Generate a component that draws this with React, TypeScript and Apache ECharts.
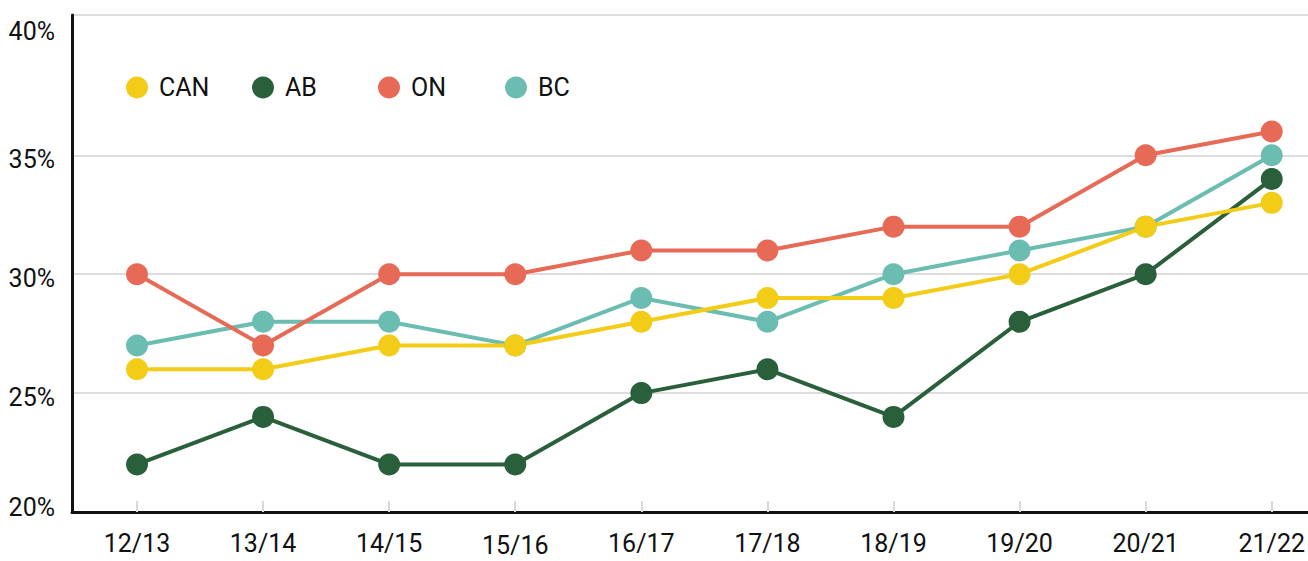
import React, { useEffect, useRef } from "react";
import * as echarts from "echarts";

const categories = ["12/13", "13/14", "14/15", "15/16", "16/17", "17/18", "18/19", "19/20", "20/21", "21/22"];
const seriesNames = ["CAN", "AB", "ON", "BC"];
const canValues = [26, 26, 27, 27, 28, 29, 29, 30, 32, 33];
const abValues = [22, 24, 22, 22, 25, 26, 24, 28, 30, 34];
const onValues = [30, 27, 30, 30, 31, 31, 32, 32, 35, 36];
const bcValues = [27, 28, 28, 27, 29, 28, 30, 31, 32, 35];
const yTicks = [20, 25, 30, 35, 40];

const colors: Record<string, string> = {
  CAN: "#F3CC17",
  AB: "#2A5F3B",
  ON: "#E66A56",
  BC: "#6CBDB1",
};

const FONT = "Roboto";

export default function App() {
  const ref = useRef<HTMLDivElement>(null);
  useEffect(() => {
    if (!ref.current) return;
    const chart = echarts.init(ref.current, null, { renderer: "svg" });
    const legendCenters = [137, 263, 389, 516];
    const dataMap: Record<string, number[]> = { CAN: canValues, AB: abValues, ON: onValues, BC: bcValues };
    const order = ["BC", "ON", "AB", "CAN"];
    chart.setOption({
      animation: false,
      textStyle: { fontFamily: FONT },
      grid: [
        { left: 72, right: 0, top: 15, bottom: 49 },
        { left: 137, right: 31, top: 15, bottom: 49 },
      ],
      legend: seriesNames.map((n, i) => ({
        data: [{ name: n, icon: "circle" }],
        left: legendCenters[i] - 11,
        top: 75,
        padding: 0,
        itemWidth: 22,
        itemHeight: 22,
        selectedMode: false,
        textStyle: { fontSize: 25, color: "#111", fontFamily: FONT, padding: [0, 0, 0, 6] },
      })),
      xAxis: [
        {
          type: "value",
          gridIndex: 0,
          min: 0,
          max: 1,
          axisLine: { show: true, onZero: false, lineStyle: { color: "#111", width: 3 } },
          axisTick: { show: false },
          axisLabel: { show: false },
          splitLine: { show: false },
        },
        {
          type: "category",
          gridIndex: 1,
          data: categories,
          boundaryGap: false,
          axisLine: { show: false, onZero: false },
          axisTick: { show: true, inside: true, interval: 0, length: 11, lineStyle: { color: "#d9d9d9", width: 2 } },
          axisLabel: {
            interval: 0,
            hideOverlap: false,
            margin: 19,
            fontSize: 25,
            color: "#111",
            fontFamily: FONT,
            formatter: (v: string, i: number) => (i === 3 ? `{low|${v}}` : v),
            rich: {
              low: { fontSize: 25, lineHeight: 24, color: "#111", fontFamily: FONT, padding: [4, 0, 0, 0] },
            },
          },
          splitLine: { show: false },
        },
      ],
      yAxis: [
        {
          type: "value",
          gridIndex: 0,
          min: 20,
          max: 40.9,
          interval: 5,
          axisLine: { show: true, lineStyle: { color: "#111", width: 3 } },
          axisTick: { show: false },
          axisLabel: {
            margin: 17,
            fontSize: 25,
            color: "#111",
            fontFamily: FONT,
            formatter: (v: number) => {
              if (!yTicks.includes(Math.round(v * 100) / 100)) return "";
              return v === 20 || v === 40 ? `{up|${v}%}` : `{dn|${v}%}`;
            },
            rich: {
              up: { fontSize: 25, color: "#111", fontFamily: FONT, padding: [0, 0, 10, 0] },
              dn: { fontSize: 25, color: "#111", fontFamily: FONT, padding: [8, 0, 0, 0] },
            },
          },
          splitLine: {
            show: true,
            lineStyle: {
              color: ["#dddddd", "#dddddd", "#dddddd", "#dddddd", "rgba(0,0,0,0)", "#dddddd"],
              width: 2,
            },
          },
        },
        {
          type: "value",
          gridIndex: 1,
          min: 20,
          max: 40.9,
          interval: 5,
          show: false,
          splitLine: { show: false },
        },
      ],
      series: order.map((n) => ({
        name: n,
        type: "line",
        xAxisIndex: 1,
        yAxisIndex: 1,
        data: dataMap[n],
        symbol: "circle",
        symbolSize: 22,
        showSymbol: true,
        lineStyle: { color: colors[n], width: 4 },
        itemStyle: { color: colors[n] },
        emphasis: { disabled: true },
      })),
    });
    return () => chart.dispose();
  }, []);
  return (
    <div
      ref={ref}
      style={{ position: "absolute", left: 0, top: 0, width: 1308, height: 561, background: "#fff" }}
    />
  );
}
